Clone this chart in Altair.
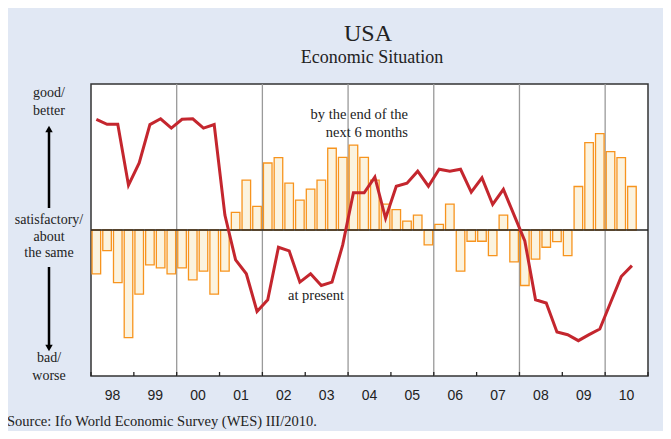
import altair as alt
import pandas as pd

# ---- data (quarterly, 1998 Q1 .. 2010 Q3), balance-like units, 0 = satisfactory ----
year_labels = ["98", "99", "00", "01", "02", "03", "04", "05", "06", "07", "08", "09", "10"]
grid_years = ["00", "02", "04", "06", "08", "10"]

present = [75.8, 72.4, 72.4, 30.7, 45.9, 72.2, 76.2, 69.8,
           75.8, 76.2, 69.8, 72.2, 10.2, -20.5, -30.0, -55.8,
           -47.8, -11.8, -14.3, -35.7, -30.0, -38.0, -35.7, -10.2,
           25.5, 25.5, 36.2, 8.0, 30.0, 32.1, 40.3, 30.0,
           41.6, 40.3, 41.6, 25.9, 35.7, 17.5, 27.8, 10.2,
           -7.5, -47.8, -50.0, -69.8, -71.7, -75.8, -71.7, -67.8,
           -49.8, -31.9, -24.4]

expect = [-30.0, -14.1, -36.0, -73.7, -43.9, -23.9, -25.9, -30.0,
          -25.9, -34.1, -28.2, -43.9, -28.2, 12.1, 34.1, 16.2,
          45.9, 49.6, 32.1, 20.5, 28.0, 34.1, 56.0, 49.8,
          58.2, 49.8, 34.1, 17.7, 13.9, 6.1, 10.2, -10.2,
          3.9, 17.7, -28.2, -7.7, -7.7, -17.5, 10.2, -21.8,
          -38.0, -20.0, -11.8, -8.0, -17.5, 29.8, 59.9, 66.0,
          53.7, 49.6, 29.8]

df = pd.DataFrame({"q": list(range(len(present))), "present": present, "expect": expect})
df["qc"] = df["q"] + 0.5
df["q0"] = df["q"] + 0.1
df["q1"] = df["q"] + 0.9
df["zero"] = 0.0

years = pd.DataFrame({"label": year_labels})
years["start"] = [4 * i for i in range(len(year_labels))]
years["mid"] = years["start"] + 2
grid = years[years["label"].isin(grid_years)]
ticks = pd.concat([years[["start"]], pd.DataFrame({"start": [4 * len(year_labels)]})])

W, H = 557, 292
xs = alt.Scale(domain=[0, 4 * len(year_labels)], nice=False, zero=False)
ys = alt.Scale(domain=[-100, 100], nice=False)
SERIF = "Liberation Serif"
SANS = "Liberation Sans"
dummy = pd.DataFrame({"a": [0]})

gridlines = alt.Chart(grid).mark_rule(color="#9a9a9a", strokeWidth=1.3).encode(
    x=alt.X("start:Q", scale=xs, axis=None), y=alt.value(0), y2=alt.value(H))

tickmarks = alt.Chart(ticks).mark_rule(color="#222", strokeWidth=1.3).encode(
    x=alt.X("start:Q", scale=xs, axis=None), y=alt.value(H), y2=alt.value(H - 4))

bars = alt.Chart(df).mark_rect(fill="#FBF3DF", stroke="#F7941E", strokeWidth=1.3).encode(
    x=alt.X("q0:Q", scale=xs, axis=None), x2="q1:Q",
    y=alt.Y("expect:Q", scale=ys, axis=None), y2="zero:Q")

zero_line = alt.Chart(pd.DataFrame({"z": [0.0]})).mark_rule(color="#222", strokeWidth=1.5).encode(
    y=alt.Y("z:Q", scale=ys, axis=None))

line = alt.Chart(df).mark_line(color="#C4262E", strokeWidth=3).encode(
    x=alt.X("qc:Q", scale=xs, axis=None), y=alt.Y("present:Q", scale=ys, axis=None))

year_text = alt.Chart(years).mark_text(font=SANS, fontSize=14, color="#222", baseline="middle").encode(
    x=alt.X("mid:Q", scale=xs, axis=None), y=alt.value(312), text="label:N")


def txt(s, x, y, size=14, align="center", font=SERIF):
    return alt.Chart(dummy).mark_text(text=s, font=font, fontSize=size, color="#222",
                                      align=align, baseline="middle").encode(
        x=alt.value(x), y=alt.value(y))


title1 = txt("USA", 277, -50, size=24)
title2 = txt("Economic Situation", 281, -26, size=18)

left = [txt("good/", -42, 9), txt("better", -42, 27),
        txt("satisfactory/", -42, 136), txt("about", -42, 153), txt("the same", -42, 169),
        txt("bad/", -42, 274), txt("worse", -42, 292)]

arrow_up = alt.Chart(dummy).mark_rule(color="black", strokeWidth=2.5).encode(
    x=alt.value(-42), y=alt.value(47), y2=alt.value(124))
arrow_dn = alt.Chart(dummy).mark_rule(color="black", strokeWidth=2.5).encode(
    x=alt.value(-42), y=alt.value(183), y2=alt.value(262))
head_up = alt.Chart(dummy).mark_point(shape="triangle-up", filled=True, color="black", size=55, opacity=1).encode(
    x=alt.value(-42), y=alt.value(45))
head_dn = alt.Chart(dummy).mark_point(shape="triangle-down", filled=True, color="black", size=55, opacity=1).encode(
    x=alt.value(-42), y=alt.value(264))

ann = [txt("by the end of the", 317, 31, size=14.5, align="right"),
       txt("next 6 months", 317, 49, size=14.5, align="right"),
       txt("at present", 225, 212, size=14.5)]

source = txt("Source: Ifo World Economic Survey (WES) III/2010.", -84, 338, size=14.5, align="left")

chart = alt.layer(
    gridlines, bars, zero_line, line, tickmarks, year_text,
    title1, title2, *left, arrow_up, arrow_dn, head_up, head_dn, *ann, source
).properties(
    width=W, height=H,
    autosize=alt.AutoSizeParams(type="none"),
    padding={"left": 83, "top": 76, "right": 15, "bottom": 55},
    background="#E1E8F4",
).configure_view(fill="white", stroke="#333", strokeWidth=1.5)

chart.save("out.html", embed_options={"renderer": "svg", "actions": False})
